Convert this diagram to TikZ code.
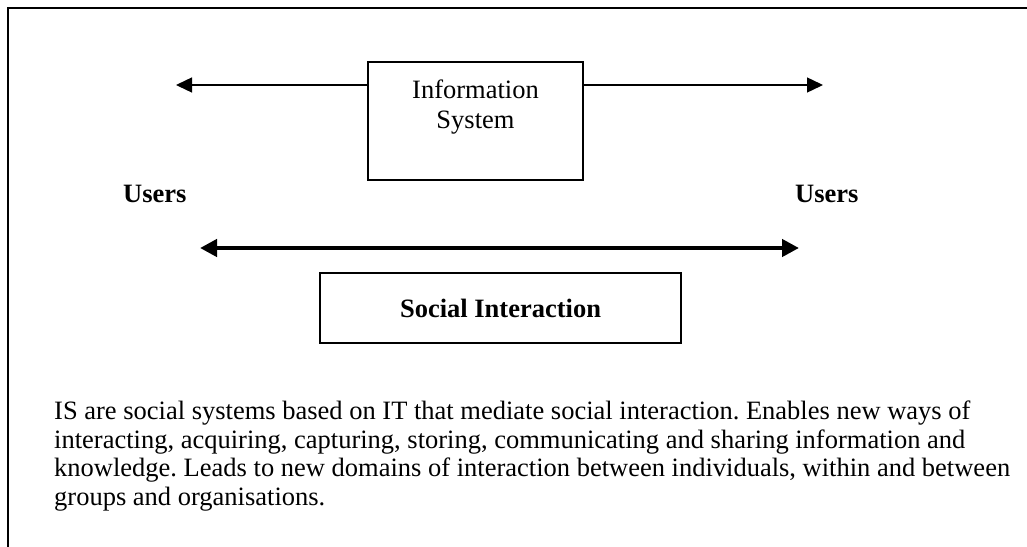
\documentclass[tikz,border=0pt]{standalone}
\usepackage{fontspec}
\setmainfont{Liberation Serif}
\usetikzlibrary{arrows.meta}
\begin{document}
\frenchspacing
\begin{tikzpicture}[x=1pt,y=-1pt,
  every node/.style={font=\fontsize{26.5}{30}\selectfont},
  boxnode/.style={draw,line width=1.5pt,inner sep=0pt},
  thinarrow/.style={line width=1.4pt,-{Triangle[length=16pt,width=15pt]}},
  thickarrow/.style={line width=4.5pt,{Triangle[length=17pt,width=17pt]}-{Triangle[length=17pt,width=17pt]}},
  frameline/.style={line width=2.4pt}]
\useasboundingbox (0,0) rectangle (1027,546);
% frame
\coordinate (fbl) at (8,560);
\coordinate (ftl) at (8,8);
\coordinate (ftr) at (1040,8);
\draw[frameline] (fbl) -- (ftl) -- (ftr);
% information system box
\node[boxnode,minimum width=215pt,minimum height=118pt] (is) at (475.5,121) {};
\node[align=center,anchor=north,inner sep=0pt] (istext) at (475.5,80) {Information\\System};
% user arrows
\coordinate (uL) at (176,85);
\coordinate (uR) at (823,85);
\draw[thinarrow] (is.west |- uL) -- (uL);
\draw[thinarrow] (is.east |- uR) -- (uR);
% users
\node[anchor=base west,inner sep=0pt,font=\fontsize{26.5}{30}\selectfont\bfseries] (usersL) at (123,202) {Users};
\node[anchor=base west,inner sep=0pt,font=\fontsize{26.5}{30}\selectfont\bfseries] (usersR) at (795,202) {Users};
% social interaction
\coordinate (sL) at (200,248);
\coordinate (sR) at (799,248);
\draw[thickarrow] (sL) -- (sR);
\node[boxnode,minimum width=361pt,minimum height=70pt,font=\fontsize{26.5}{30}\selectfont\bfseries] (social) at (500.5,308) {Social Interaction};
% paragraph
\node[align=left,anchor=north west,inner sep=0pt,font=\fontsize{26.5}{28.5}\selectfont] (para) at (54,401) {IS are social systems based on IT that mediate social interaction. Enables new ways of\\interacting, acquiring, capturing, storing, communicating and sharing information and\\knowledge. Leads to new domains of interaction between individuals, within and between\\groups and organisations.};
\end{tikzpicture}
\end{document}
